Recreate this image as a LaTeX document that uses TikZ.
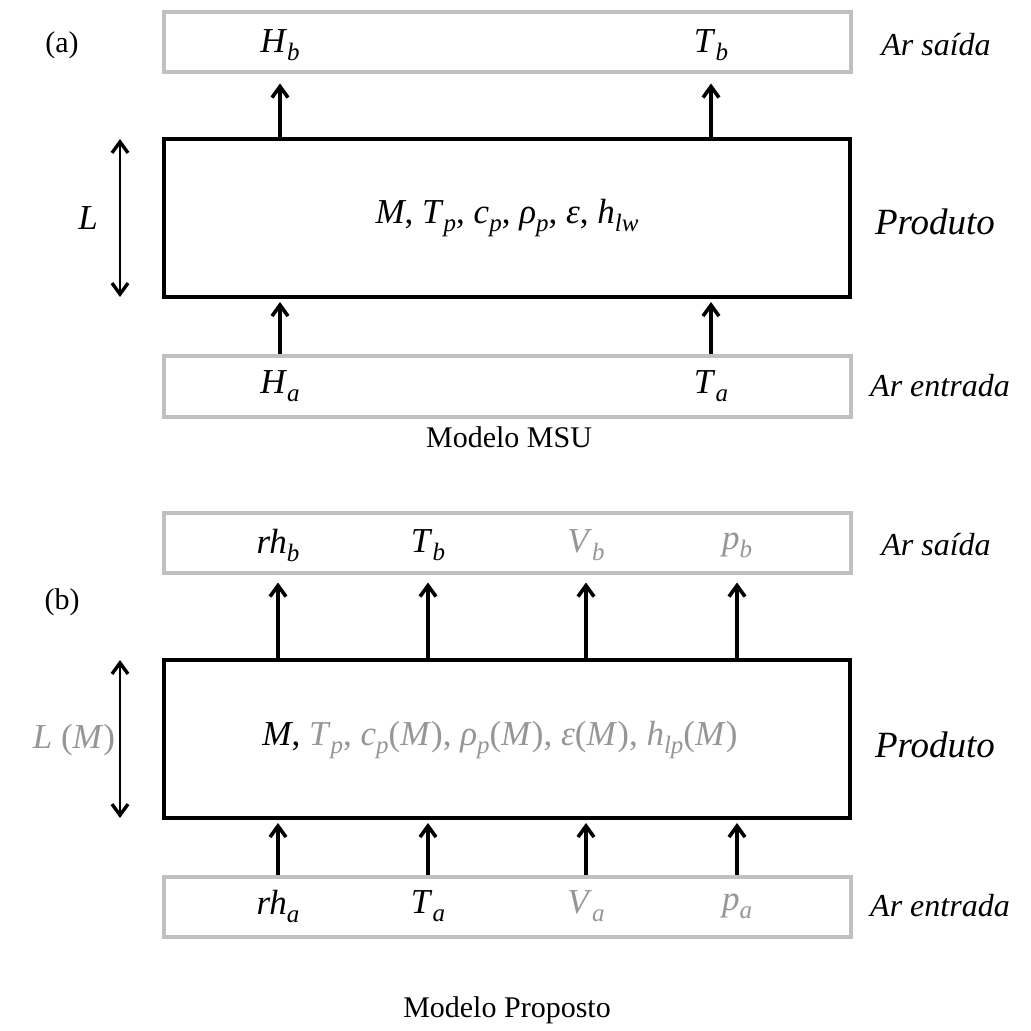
\documentclass[tikz,border=0pt]{standalone}
\usepackage{fontspec}
\setmainfont{Liberation Serif}
\usetikzlibrary{arrows.meta}
\definecolor{boxgray}{RGB}{192,192,192}
\definecolor{txtgray}{RGB}{150,150,150}
\newcommand{\vv}[2]{\textit{#1}\raisebox{-0.5ex}{\fontsize{12.5}{13}\selectfont\textit{#2}}}
\begin{document}
\begin{tikzpicture}[x=0.5pt,y=-0.5pt,
 airbox/.style={draw=boxgray,line width=2pt,minimum width=343.5pt,minimum height=30pt,inner sep=0pt},
 prodbox/.style={draw=black,line width=2pt,minimum width=343pt,minimum height=79pt,inner sep=0pt},
 var/.style={font=\fontsize{17.5}{20}\selectfont},
 side/.style={font=\fontsize{16}{19}\selectfont\itshape},
 big/.style={font=\fontsize{18.5}{21}\selectfont\itshape},
 lbl/.style={font=\fontsize{15}{17}\selectfont},
 arr/.style={line width=1.6pt,-{Straight Barb[length=5.5pt,width=8pt,line width=1.8pt]}},
 dbl/.style={line width=1.4pt,{Straight Barb[length=5.5pt,width=8pt,line width=1.7pt]}-{Straight Barb[length=5.5pt,width=8pt,line width=1.7pt]}},
 gr/.style={text=txtgray}]
\useasboundingbox (0,0) rectangle (1030,1031);

% ---------- (a) ----------
\node[lbl] (la) at (62,45) {(a)};
\node[airbox] (topA) at (507.5,42.5) {};
\node[prodbox] (prodA) at (507,218) {};
\node[airbox] (botA) at (507.5,386.5) {};

\node[var] (Hb) at (280,45) {\vv{H}{b}};
\node[var] (Tb) at (711,45) {\vv{T}{b}};
\node[var] (Ha) at (280,386) {\vv{H}{a}};
\node[var] (Ta) at (711,386) {\vv{T}{a}};

\draw[arr] (prodA.north -| Hb) -- ([yshift=-4.5pt]topA.south -| Hb);
\draw[arr] (prodA.north -| Tb) -- ([yshift=-4.5pt]topA.south -| Tb);
\draw[arr] (botA.north -| Ha) -- ([yshift=-1.5pt]prodA.south -| Ha);
\draw[arr] (botA.north -| Ta) -- ([yshift=-1.5pt]prodA.south -| Ta);

\node[var] (pa) at (507,218) {\textit{M}, \vv{T}{p}, \vv{c}{p}, \vv{ρ}{p}, \textit{ε}, \vv{h}{lw}};

\coordinate (La1) at (120,139);
\coordinate (La2) at (120,297);
\draw[dbl] (La1) -- (La2);
\node[var] (L) at (88,218) {\textit{L}};

\node[side] (sA) at (936,45) {Ar saída};
\node[big] (pA) at (935,222) {Produto};
\node[side] (eA) at (940,386) {Ar entrada};
\node[lbl] (mA) at (509,437) {Modelo MSU};

% ---------- (b) ----------
\node[lbl] (lb) at (62,602) {(b)};
\node[airbox] (topB) at (507.5,542.5) {};
\node[prodbox] (prodB) at (507,739) {};
\node[airbox] (botB) at (507.5,906.5) {};

\node[var] (rhb) at (278,545) {\vv{rh}{b}};
\node[var] (Tbb) at (428,545) {\vv{T}{b}};
\node[var,gr] (Vb) at (586,545) {\vv{V}{b}};
\node[var,gr] (pb) at (737,545) {\vv{p}{b}};
\node[var] (rha) at (278,906) {\vv{rh}{a}};
\node[var] (Tab) at (428,906) {\vv{T}{a}};
\node[var,gr] (Va) at (586,906) {\vv{V}{a}};
\node[var,gr] (pab) at (737,906) {\vv{p}{a}};

\foreach \n in {rhb,Tbb,Vb,pb}{
  \draw[arr] (prodB.north -| \n) -- ([yshift=-4pt]topB.south -| \n);
}
\foreach \n in {rha,Tab,Va,pab}{
  \draw[arr] (botB.north -| \n) -- ([yshift=-1.5pt]prodB.south -| \n);
}

\node[var] (pbt) at (500,740) {\textit{M}, \textcolor{txtgray}{\vv{T}{p}, \vv{c}{p}(\textit{M}), \vv{ρ}{p}(\textit{M}), \textit{ε}(\textit{M}), \vv{h}{lp}(\textit{M})}};

\coordinate (Lb1) at (120,660);
\coordinate (Lb2) at (120,818);
\draw[dbl] (Lb1) -- (Lb2);
\node[var,gr] (LM) at (74,740) {\textit{L} (\textit{M})};

\node[side] (sB) at (936,545) {Ar saída};
\node[big] (pB) at (935,745) {Produto};
\node[side] (eB) at (940,906) {Ar entrada};
\node[lbl] (mB) at (507,1010) {Modelo Proposto};
\end{tikzpicture}
\end{document}
